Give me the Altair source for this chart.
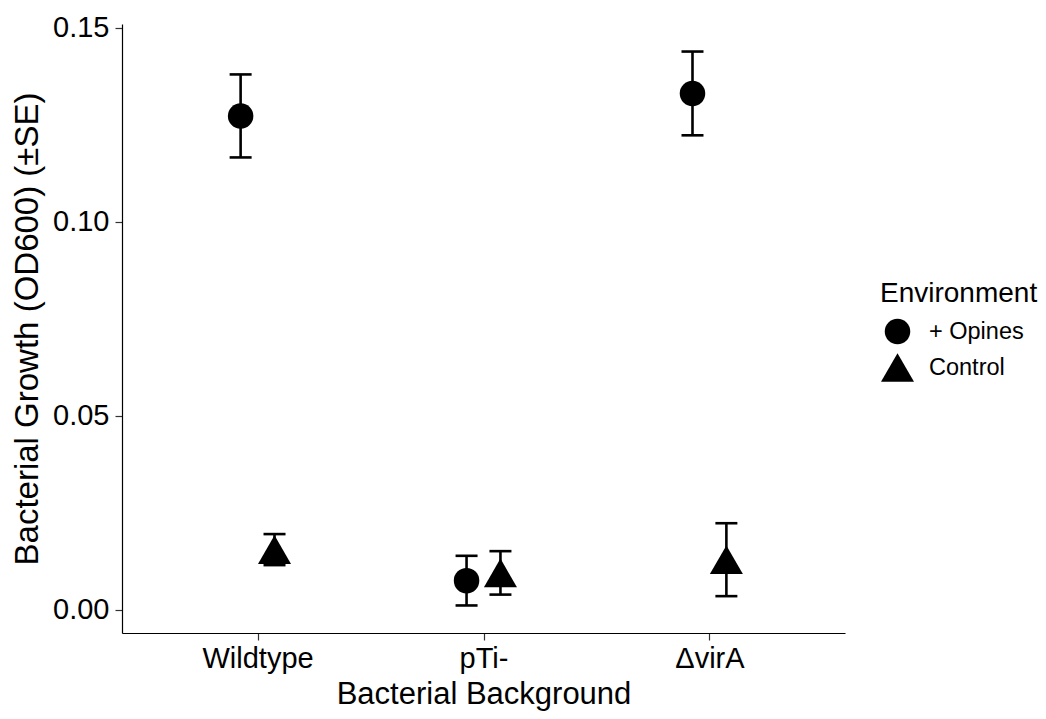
import altair as alt
import pandas as pd

backgrounds = ["Wildtype", "pTi-", "ΔvirA"]
environments = ["+ Opines", "Control"]
opines_mean = [0.1273, 0.0075, 0.1331]
opines_se = [0.0107, 0.0064, 0.0108]
control_mean = [0.0155, 0.0095, 0.0129]
control_se = [0.0040, 0.0056, 0.0094]
y_ticks = [0.0, 0.05, 0.10, 0.15]
dodge = 0.075

rows = []
for i, b in enumerate(backgrounds):
    for env, means, ses, off in [
        ("+ Opines", opines_mean, opines_se, -dodge),
        ("Control", control_mean, control_se, dodge),
    ]:
        rows.append(dict(background=b, env=env, pos=i + 1 + off,
                         mean=means[i], lo=means[i] - ses[i], hi=means[i] + ses[i]))
df = pd.DataFrame(rows)

FONT = "Liberation Sans"
label_expr = "[" + ",".join("'" + b + "'" for b in backgrounds) + "][datum.value - 1]"

x_scale = alt.Scale(domain=[0.4, 3.6], nice=False, zero=False)
y_scale = alt.Scale(domain=[-0.006, 0.151], nice=False, zero=False)
x_axis = alt.Axis(values=[1, 2, 3], labelExpr=label_expr, title="Bacterial Background")
y_axis = alt.Axis(values=y_ticks, format=".2f", title="Bacterial Growth (OD600) (±SE)")


def X():
    return alt.X("pos:Q", scale=x_scale, axis=x_axis, title="Bacterial Background")


def Y(field):
    return alt.Y(field, scale=y_scale, axis=y_axis, title="Bacterial Growth (OD600) (±SE)")


base = alt.Chart(df)

stems = base.mark_rule(color="black", strokeWidth=2.6).encode(
    x=X(), y=Y("lo:Q"), y2="hi:Q"
)
cap_lo = base.mark_tick(orient="horizontal", size=22, thickness=2.6, color="black", opacity=1).encode(
    x=X(), y=Y("lo:Q")
)
cap_hi = base.mark_tick(orient="horizontal", size=22, thickness=2.6, color="black", opacity=1).encode(
    x=X(), y=Y("hi:Q")
)
points = base.mark_point(filled=True, opacity=1, color="black", strokeWidth=0).encode(
    x=X(),
    y=Y("mean:Q"),
    shape=alt.Shape("env:N", scale=alt.Scale(domain=environments, range=["circle", "triangle-up"]),
                    legend=alt.Legend(title="Environment")),
    size=alt.Size("env:N", scale=alt.Scale(domain=environments, range=[650, 1090]),
                  legend=alt.Legend(title="Environment")),
)

chart = alt.layer(stems, cap_lo, cap_hi, points).properties(
    width=723,
    height=609,
    autosize=alt.AutoSizeParams(type="none"),
    padding={"left": 114, "top": 16, "right": 193, "bottom": 78},
).configure_view(
    stroke=None
).configure_axis(
    grid=False,
    domainColor="black",
    domainWidth=1.2,
    tickColor="#333333",
    tickWidth=1.2,
    tickSize=7,
    labelColor="black",
    labelFont=FONT,
    labelFontSize=29,
    titleFont=FONT,
    titleFontWeight="normal",
    titleColor="black",
).configure_axisX(
    labelPadding=4,
    titlePadding=6,
    titleFontSize=31,
).configure_axisY(
    labelPadding=6,
    titlePadding=8,
    titleFontSize=33,
).configure_legend(
    orient="none",
    legendX=758,
    legendY=256,
    titleFont=FONT,
    titleFontSize=28,
    titleFontWeight="normal",
    titleColor="black",
    titlePadding=10,
    labelFont=FONT,
    labelFontSize=23.5,
    labelColor="black",
    labelOffset=14,
    rowPadding=2,
)

chart.save("out.html", embed_options={"renderer": "svg", "actions": False})
